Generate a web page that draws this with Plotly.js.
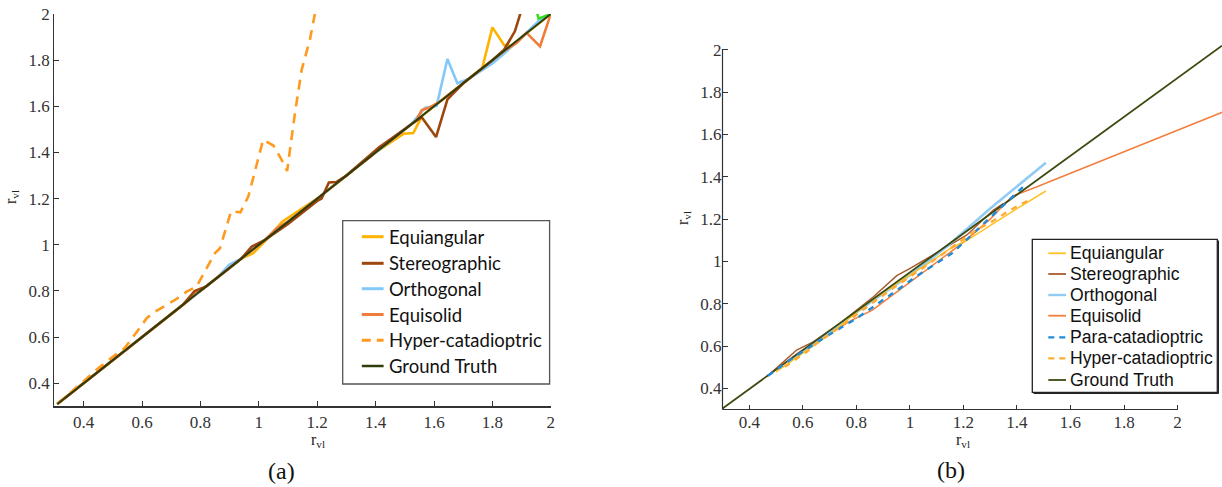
<!DOCTYPE html>
<html>
<head>
<meta charset="utf-8">
<script src="https://cdn.plot.ly/plotly-3.0.1.min.js"></script>
<style>html,body{margin:0;padding:0;background:#fff;}#chart{width:1222px;height:487px;}</style>
</head>
<body>
<div id="chart"></div>
<script>
// ---------- Panel (a) data ----------
const tickVals = [0.4, 0.6, 0.8, 1, 1.2, 1.4, 1.6, 1.8, 2];
const tickText = ['0.4', '0.6', '0.8', '1', '1.2', '1.4', '1.6', '1.8', '2'];

const aEquiangularX = [0.31, 0.60, 0.78, 0.94, 0.98, 1.04, 1.08, 1.20, 1.40, 1.447, 1.495, 1.529, 1.56, 1.72, 1.765, 1.80, 1.84, 1.865, 1.90, 2.00];
const aEquiangularY = [0.31, 0.60, 0.78, 0.94, 0.963, 1.04, 1.10, 1.20, 1.40, 1.44, 1.481, 1.484, 1.56, 1.72, 1.765, 1.942, 1.866, 1.862, 1.90, 2.00];

const aStereoX = [0.31, 0.74, 0.78, 0.82, 0.94, 0.976, 1.02, 1.10, 1.20, 1.215, 1.24, 1.265, 1.30, 1.41, 1.52, 1.558, 1.607, 1.646, 1.70, 1.80, 1.84, 1.877, 1.905];
const aStereoY = [0.31, 0.74, 0.80, 0.82, 0.94, 0.992, 1.02, 1.09, 1.19, 1.20, 1.27, 1.272, 1.30, 1.42, 1.52, 1.553, 1.467, 1.63, 1.70, 1.80, 1.845, 1.925, 2.04];

const aOrthoX = [0.31, 0.86, 0.898, 0.94, 1.40, 1.52, 1.569, 1.609, 1.646, 1.68, 1.72, 1.75, 1.80, 1.85, 1.963, 2.00];
const aOrthoY = [0.31, 0.86, 0.913, 0.94, 1.40, 1.52, 1.593, 1.602, 1.805, 1.70, 1.72, 1.745, 1.786, 1.84, 1.975, 2.00];

const aEquisolidX = [0.31, 0.76, 0.781, 0.80, 1.02, 1.061, 1.10, 1.39, 1.415, 1.44, 1.54, 1.558, 1.585, 1.62, 1.84, 1.883, 1.917, 1.963, 2.00];
const aEquisolidY = [0.31, 0.76, 0.797, 0.80, 1.02, 1.072, 1.10, 1.39, 1.426, 1.44, 1.54, 1.584, 1.595, 1.62, 1.84, 1.874, 1.918, 1.86, 2.00];

const aHyperX = [0.31, 0.40, 0.45, 0.50, 0.54, 0.587, 0.616, 0.645, 0.685, 0.713, 0.753, 0.787, 0.85, 0.867, 0.905, 0.937, 0.964, 1.015, 1.05, 1.075, 1.097, 1.124, 1.147, 1.175, 1.195];
const aHyperY = [0.31, 0.41, 0.465, 0.515, 0.552, 0.631, 0.682, 0.711, 0.74, 0.761, 0.797, 0.82, 0.964, 0.985, 1.145, 1.141, 1.209, 1.455, 1.43, 1.376, 1.32, 1.572, 1.759, 1.889, 2.02];

const aExtraX = [1.952, 1.958, 2.00];
const aExtraY = [2.01, 1.98, 2.00];

const aTruthX = [0.31, 2.00];
const aTruthY = [0.31, 2.00];

// ---------- Panel (b) data ----------
const bEquiangularX = [0.50, 0.60, 0.70, 0.84, 0.95, 1.05, 1.15, 1.213, 1.30, 1.40, 1.508];
const bEquiangularY = [0.478, 0.565, 0.655, 0.800, 0.895, 0.975, 1.06, 1.10, 1.17, 1.25, 1.333];

const bStereoX = [0.47, 0.577, 0.639, 0.739, 0.864, 0.951, 1.001, 1.076, 1.213, 1.312, 1.35];
const bStereoY = [0.46, 0.581, 0.62, 0.707, 0.833, 0.933, 0.967, 1.022, 1.125, 1.243, 1.275];

const bOrthoX = [0.55, 0.70, 0.85, 1.00, 1.138, 1.30, 1.508];
const bOrthoY = [0.53, 0.668, 0.805, 0.935, 1.07, 1.25, 1.467];

const bEquisolidX = [0.465, 0.58, 0.68, 0.78, 0.86, 0.95, 1.05, 1.20, 1.30, 1.383, 1.449, 2.167];
const bEquisolidY = [0.455, 0.565, 0.645, 0.72, 0.77, 0.855, 0.95, 1.09, 1.20, 1.309, 1.34, 1.705];

const bParaX = [0.47, 0.552, 0.677, 0.801, 0.864, 0.988, 1.032, 1.157, 1.275, 1.437];
const bParaY = [0.46, 0.534, 0.637, 0.731, 0.786, 0.896, 0.936, 1.038, 1.177, 1.369];

const bHyperX = [0.533, 0.615, 0.652, 0.75, 0.85, 0.95, 1.05, 1.15, 1.25, 1.312, 1.375, 1.456];
const bHyperY = [0.502, 0.573, 0.613, 0.70, 0.795, 0.885, 0.97, 1.06, 1.15, 1.192, 1.243, 1.298];

const bTruthX = [0.30, 2.166];
const bTruthY = [0.305, 2.02];

// ---------- helpers ----------
const W = 1222, H = 487;
const px = x => x / W;
const py = y => 1 - y / H;

function tr(name, x, y, color, width, dash, xa, ya) {
  return {type: 'scatter', mode: 'lines', name: name, x: x, y: y,
          xaxis: xa, yaxis: ya, showlegend: false, hoverinfo: 'skip',
          line: {color: color, width: width, dash: dash || 'solid'}};
}

const A = {
  equi:  {name: 'Equiangular', color: '#FFB300'},
  ster:  {name: 'Stereographic', color: '#9C470E'},
  orth:  {name: 'Orthogonal', color: '#82C8FA'},
  eqs:   {name: 'Equisolid', color: '#F07C3A'},
  hyp:   {name: 'Hyper-catadioptric', color: '#FF9A1E'},
  gt:    {name: 'Ground Truth', color: '#2E3D0C'}
};
const B = {
  equi:  {name: 'Equiangular', color: '#FFC125'},
  ster:  {name: 'Stereographic', color: '#A85B2E'},
  orth:  {name: 'Orthogonal', color: '#8FCBF2'},
  eqs:   {name: 'Equisolid', color: '#F27F3D'},
  para:  {name: 'Para-catadioptric', color: '#1F8BDA'},
  hyp:   {name: 'Hyper-catadioptric', color: '#FFAB33'},
  gt:    {name: 'Ground Truth', color: '#3A4A10'}
};

const lwA = 2.6;
const traces = [
  tr(A.equi.name, aEquiangularX, aEquiangularY, A.equi.color, lwA, null, 'x', 'y'),
  tr(A.orth.name, aOrthoX, aOrthoY, A.orth.color, lwA, null, 'x', 'y'),
  tr(A.eqs.name, aEquisolidX, aEquisolidY, A.eqs.color, lwA, null, 'x', 'y'),
  tr(A.ster.name, aStereoX, aStereoY, A.ster.color, lwA, null, 'x', 'y'),
  tr(A.hyp.name, aHyperX, aHyperY, A.hyp.color, lwA, '10px,7px', 'x', 'y'),
  tr('extra', aExtraX, aExtraY, '#33DD22', lwA, null, 'x', 'y'),
  tr(A.gt.name, aTruthX, aTruthY, A.gt.color, 2.0, null, 'x', 'y'),

  tr(B.eqs.name, bEquisolidX, bEquisolidY, B.eqs.color, 1.5, null, 'x2', 'y2'),
  tr(B.ster.name, bStereoX, bStereoY, B.ster.color, 1.5, null, 'x2', 'y2'),
  tr(B.orth.name, bOrthoX, bOrthoY, B.orth.color, 2.6, null, 'x2', 'y2'),
  tr(B.equi.name, bEquiangularX, bEquiangularY, B.equi.color, 1.5, null, 'x2', 'y2'),
  tr(B.gt.name, bTruthX, bTruthY, B.gt.color, 1.8, null, 'x2', 'y2'),
  tr(B.para.name, bParaX, bParaY, B.para.color, 2.4, '6px,6px', 'x2', 'y2'),
  tr(B.hyp.name, bHyperX, bHyperY, B.hyp.color, 2.4, '6px,6px', 'x2', 'y2')
];

const tickFont = {family: '"Liberation Serif", "Times New Roman", serif', size: 17, color: '#333'};
function axisCommon(extra) {
  return Object.assign({
    tickmode: 'array', tickvals: tickVals, ticktext: tickText,
    ticks: 'inside', ticklen: 5, tickwidth: 1, tickcolor: '#333',
    showgrid: false, zeroline: false, tickfont: tickFont, fixedrange: true
  }, extra);
}

const shapes = [];
const annotations = [];

// Panel (b) axis lines stop at 2 (lines continue past)
const bx0 = 722.5, bx2 = 1177.6, by0 = 409.5, by2 = 49.9;
shapes.push({type: 'line', xref: 'paper', yref: 'paper', x0: px(bx0), x1: px(bx2), y0: py(by0), y1: py(by0), line: {color: '#333', width: 1.2}});
shapes.push({type: 'line', xref: 'paper', yref: 'paper', x0: px(bx0), x1: px(bx0), y0: py(by0), y1: py(by2 - 1), line: {color: '#333', width: 1.2}});

// Legend builder
function legend(items, box, rowsY, sx0, sx1, tx, font, border, borderW, lineWs) {
  shapes.push({type: 'rect', xref: 'paper', yref: 'paper', x0: px(box[0]), x1: px(box[2]), y0: py(box[1]), y1: py(box[3]),
               fillcolor: '#fff', line: {color: border, width: borderW}, layer: 'above'});
  items.forEach((it, i) => {
    shapes.push({type: 'line', xref: 'paper', yref: 'paper', x0: px(sx0), x1: px(sx1), y0: py(rowsY[i]), y1: py(rowsY[i]),
                 line: {color: it.color, width: lineWs[i], dash: it.dash || 'solid'}, layer: 'above'});
    annotations.push({xref: 'paper', yref: 'paper', x: px(tx), y: py(rowsY[i]), xanchor: 'left', yanchor: 'middle',
                      text: it.name, showarrow: false, font: font});
  });
}

legend([A.equi, A.ster, A.orth, A.eqs, Object.assign({dash: '9px,6px'}, A.hyp), A.gt],
       [342.7, 220.7, 549.6, 384], [236.7, 263.3, 288.7, 314.5, 340.3, 366],
       361.8, 383.6, 386.5, {family: 'Lato, "Noto Sans", sans-serif', size: 18.5, color: '#111'},
       '#555', 1.3, [3, 3, 3, 3, 3, 2.5]);

legend([B.equi, B.ster, B.orth, B.eqs, Object.assign({dash: '6px,5px'}, B.para), Object.assign({dash: '6px,5px'}, B.hyp), B.gt],
       [1032.3, 239.3, 1217.3, 392.3], [253.3, 274, 295, 315.7, 337.3, 358.3, 380],
       1048.3, 1066, 1067.5, {family: '"Liberation Sans", Arial, sans-serif', size: 17.6, color: '#111'},
       '#222', 1.3, [1.8, 1.8, 2.4, 1.8, 2.2, 2.2, 1.8]);
// small shadow on panel (b) legend box
shapes.push({type: 'line', xref: 'paper', yref: 'paper', x0: px(1033.5), x1: px(1218.5), y0: py(393.5), y1: py(393.5), line: {color: '#222', width: 1}, layer: 'above'});
shapes.push({type: 'line', xref: 'paper', yref: 'paper', x0: px(1218.5), x1: px(1218.5), y0: py(240.5), y1: py(393.5), line: {color: '#222', width: 1}, layer: 'above'});

// Axis titles and captions
const serif = '"Liberation Serif", "Times New Roman", serif';
const titleFont = {family: serif, size: 16, color: '#222'};
annotations.push({xref: 'paper', yref: 'paper', x: px(318), y: py(440), xanchor: 'center', yanchor: 'middle', showarrow: false, text: 'r<sub>vl</sub>', font: titleFont});
annotations.push({xref: 'paper', yref: 'paper', x: px(12), y: py(197), xanchor: 'center', yanchor: 'middle', showarrow: false, text: 'r<sub>vl</sub>', textangle: -90, font: titleFont});
annotations.push({xref: 'paper', yref: 'paper', x: px(963), y: py(440), xanchor: 'center', yanchor: 'middle', showarrow: false, text: 'r<sub>vl</sub>', font: titleFont});
annotations.push({xref: 'paper', yref: 'paper', x: px(683), y: py(218), xanchor: 'center', yanchor: 'middle', showarrow: false, text: 'r<sub>vl</sub>', textangle: -90, font: titleFont});
annotations.push({xref: 'paper', yref: 'paper', x: px(281), y: py(471), xanchor: 'center', yanchor: 'middle', showarrow: false, text: '(a)', font: {family: serif, size: 24, color: '#111'}});
annotations.push({xref: 'paper', yref: 'paper', x: px(951), y: py(470), xanchor: 'center', yanchor: 'middle', showarrow: false, text: '(b)', font: {family: serif, size: 24, color: '#111'}});

const layout = {
  width: W, height: H,
  margin: {l: 0, r: 0, t: 0, b: 0, pad: 0},
  paper_bgcolor: '#fff', plot_bgcolor: 'rgba(0,0,0,0)',
  showlegend: false, hovermode: false,
  xaxis: axisCommon({domain: [px(54.4), px(550.8)], range: [0.3, 2], anchor: 'y', showline: true, linecolor: '#333', linewidth: 1.2}),
  yaxis: axisCommon({domain: [py(406.4), py(14)], range: [0.3, 2], anchor: 'x', showline: true, linecolor: '#333', linewidth: 1.2}),
  xaxis2: axisCommon({domain: [px(bx0), 1], range: [0.3, 2.166], anchor: 'y2', showline: false}),
  yaxis2: axisCommon({domain: [py(by0), py(40)], range: [0.3, 2.0468], anchor: 'x2', showline: false}),
  shapes: shapes,
  annotations: annotations
};

Plotly.newPlot('chart', traces, layout, {staticPlot: true, displayModeBar: false});
</script>
</body>
</html>
